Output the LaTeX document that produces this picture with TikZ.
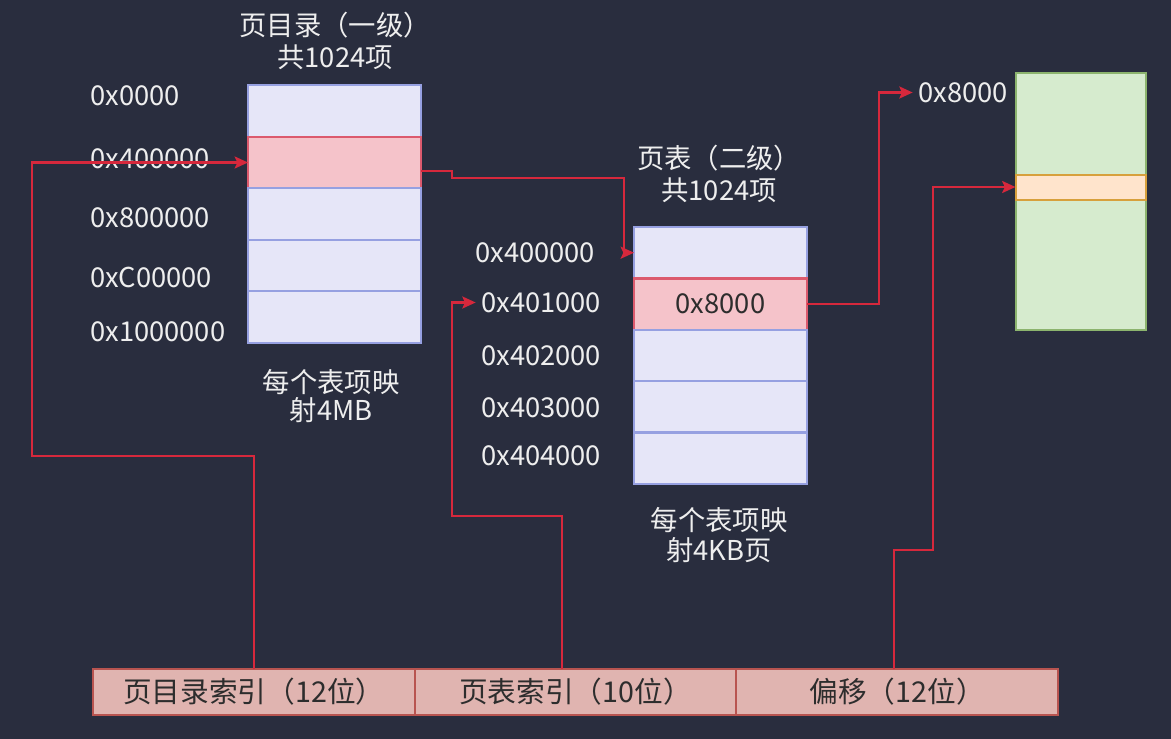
\documentclass[tikz,border=0pt]{standalone}
\usepackage{fontspec}
\setmainfont{Noto Sans CJK SC}
\usetikzlibrary{arrows.meta,calc}
\definecolor{bg}{RGB}{41,45,62}
\definecolor{lavfill}{RGB}{230,230,248}
\definecolor{lavdraw}{RGB}{150,160,225}
\definecolor{pinkfill}{RGB}{245,195,202}
\definecolor{pinkdraw}{RGB}{220,90,110}
\definecolor{greenfill}{RGB}{214,235,206}
\definecolor{greendraw}{RGB}{140,180,110}
\definecolor{orfill}{RGB}{255,228,204}
\definecolor{ordraw}{RGB}{215,160,60}
\definecolor{barfill}{RGB}{224,180,176}
\definecolor{bardraw}{RGB}{184,84,80}
\definecolor{arrc}{RGB}{214,40,60}
\definecolor{txtw}{RGB}{238,238,238}
\definecolor{txtd}{RGB}{45,45,45}
\tikzset{
  cell/.style={draw=lavdraw, fill=lavfill, line width=1.8pt, inner sep=0pt, outer sep=0pt,
    minimum width=129.75pt, minimum height=38.6pt},
  hotcell/.style={cell, draw=pinkdraw, fill=pinkfill},
  barcell/.style={draw=bardraw, fill=barfill, line width=1.5pt, inner sep=0pt, outer sep=0pt,
    minimum width=241.25pt, minimum height=34.5pt, text=txtd, font=\fontsize{21.5pt}{24pt}\selectfont},
  lbl/.style={text=txtw, inner sep=0pt, anchor=west, font=\fontsize{20.5pt}{24pt}\selectfont},
  captxt/.style={text=txtw, inner sep=0pt, align=center},
  arr/.style={draw=arrc, line width=1.8pt, -{Stealth[length=10pt,width=9pt,inset=2pt]}}
}
\begin{document}
\begin{tikzpicture}[x=0.75pt,y=-0.75pt]
\fill[bg] (0,0) rectangle (1171,739);
\useasboundingbox (0,0) rectangle (1171,739);

% page directory
\node[cell] (d0) at (334.5,111) {};
\node[hotcell] (d1) at (334.5,162.5) {};
\node[cell] (d2) at (334.5,214) {};
\node[cell] (d3) at (334.5,265.5) {};
\node[cell] (d4) at (334.5,317) {};
\node[captxt, font=\fontsize{20.5pt}{24pt}\selectfont] (dtitle) at (335,41) {页目录（一级）\\共1024项};
\node[captxt, font=\fontsize{20.5pt}{21pt}\selectfont] (dcap) at (331,396) {每个表项映\\射4MB};
\node[lbl] (la0) at (90,96) {0x0000};
\node[lbl] (la1) at (90,159) {0x400000};
\node[lbl] (la2) at (90,218) {0x800000};
\node[lbl] (la3) at (90,277) {0xC00000};
\node[lbl] (la4) at (90,331.5) {0x1000000};

% page table
\node[cell] (t0) at (720.5,252.7) {};
\node[hotcell, text=txtd, font=\fontsize{20.5pt}{24pt}\selectfont] (t1) at (720.5,304.1) {0x8000};
\node[cell] (t2) at (720.5,355.5) {};
\node[cell] (t3) at (720.5,406.9) {};
\node[cell] (t4) at (720.5,458.3) {};
\node[captxt, font=\fontsize{20.5pt}{24pt}\selectfont] (ttitle) at (719,174) {页表（二级）\\共1024项};
\node[captxt, font=\fontsize{20.5pt}{22.5pt}\selectfont] (tcap) at (719,535) {每个表项映\\射4KB页};
\node[lbl] (lb0) at (475,253) {0x400000};
\node[lbl] (lb1) at (481,302.5) {0x401000};
\node[lbl] (lb2) at (481,355.5) {0x402000};
\node[lbl] (lb3) at (481,408) {0x403000};
\node[lbl] (lb4) at (481,456) {0x404000};

% physical page
\node[draw=greendraw, fill=greenfill, line width=1.5pt, inner sep=0pt, outer sep=0pt,
  minimum width=97.5pt, minimum height=192.75pt] (phys) at (1080.5,201) {};
\node[draw=ordraw, fill=orfill, line width=1.5pt, inner sep=0pt, outer sep=0pt,
  minimum width=97.5pt, minimum height=18.75pt] (band) at (1080.5,187) {};
\node[lbl] (lp) at (918,92.5) {0x8000};

% address bar
\node[barcell] (b1) at (253.8,692) {页目录索引（12位）};
\node[barcell] (b2) at (575.5,692) {页表索引（10位）};
\node[barcell] (b3) at (897.2,692) {偏移（12位）};

% connectors
\coordinate (c1) at (32,456);
\coordinate (c2a) at (452,178);
\coordinate (c2b) at (624,178);
\coordinate (c3) at (452,516);
\coordinate (c4) at (879,200);
\coordinate (c5) at (933,550);

\draw[arr] (b1.north) |- (c1) |- (d1.west);
\draw[arr] ([yshift=-6.4pt]d1.east) -| (c2a) -- (c2b) |- (t0.west);
\draw[arr] ([xshift=-10pt]b2.north) |- (c3) |- ([xshift=-4pt]lb1.west);
\draw[arr] (t1.east) -| (c4) |- ([xshift=-4pt]lp.west);
\draw[arr] ([xshift=-2.4pt]b3.north) |- (c5) |- (band.west);
\end{tikzpicture}
\end{document}
